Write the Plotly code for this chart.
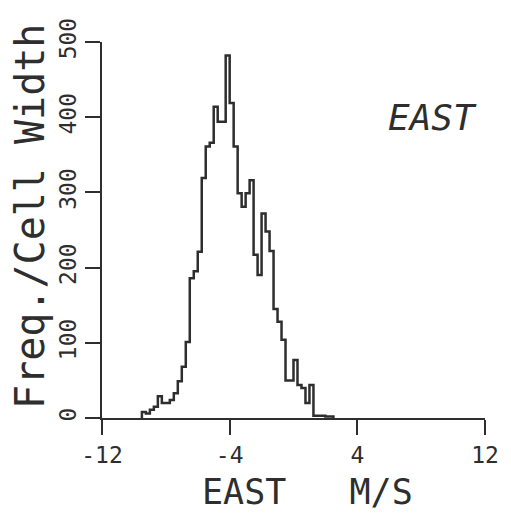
import plotly.graph_objects as go

# Histogram of the east velocity component (bin width 0.25 m/s)
bin_start = -9.5
bin_width = 0.25
counts = [
    8, 6, 11, 15, 29, 20, 20, 24, 33, 49,
    68, 101, 186, 195, 221, 319, 361, 366, 414, 394,
    394, 482, 419, 361, 299, 281, 299, 316, 217, 190,
    272, 248, 222, 145, 128, 104, 50, 50, 77, 44,
    40, 20, 44, 3, 3, 3, 2, 2,
]

x_ticks = [-12, -4, 4, 12]
y_ticks = [0, 100, 200, 300, 400, 500]

# Step outline: start and end on the baseline
edges = [bin_start + i * bin_width for i in range(len(counts) + 1)]
xs = [edges[0]] + edges
ys = [0] + counts + [0]

ink = "#2e2e2e"
font = "DejaVu Sans Mono"

fig = go.Figure()
fig.add_trace(go.Scatter(
    x=xs, y=ys, mode="lines", line=dict(shape="hv", color=ink, width=2.5),
    hoverinfo="skip", showlegend=False,
))

fig.update_layout(
    width=511, height=516,
    margin=dict(l=102, r=21, t=42, b=98),
    paper_bgcolor="white", plot_bgcolor="white",
    xaxis=dict(
        range=[-12, 12], tickvals=x_ticks, ticktext=[str(v) for v in x_ticks],
        showgrid=False, zeroline=False, showline=True, linecolor=ink, linewidth=2,
        ticks="outside", ticklen=15, tickwidth=2, tickcolor=ink,
        tickfont=dict(family=font, size=23, color=ink),
    ),
    yaxis=dict(
        range=[0, 500], tickvals=y_ticks, ticktext=[str(v) for v in y_ticks],
        showgrid=False, zeroline=False, showline=True, linecolor=ink, linewidth=2,
        ticks="outside", ticklen=15, tickwidth=2, tickcolor=ink, tickangle=-90,
        tickfont=dict(family=font, size=23, color=ink),
    ),
    annotations=[
        dict(text="EAST   M/S", xref="paper", yref="paper", x=(310 - 102) / 388,
             y=-(492 - 418) / 376, xanchor="center", yanchor="middle", showarrow=False,
             font=dict(family=font, size=35, color=ink)),
        dict(text="Freq./Cell Width", xref="paper", yref="paper", x=-(102 - 29) / 388,
             y=(418 - 216) / 376, xanchor="center", yanchor="middle", textangle=-90,
             showarrow=False, font=dict(family=font, size=40, color=ink)),
        dict(text="EAST", xref="paper", yref="paper", x=(437 - 102) / 388,
             y=(418 - 117) / 376, xanchor="center", yanchor="middle", showarrow=False,
             font=dict(family=font, size=36, color=ink, style="italic")),
    ],
)

fig.write_html("out.html")
